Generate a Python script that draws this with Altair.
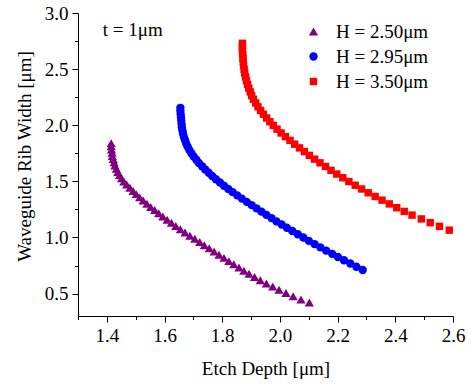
import altair as alt
import pandas as pd

series_labels = ["H = 2.50μm", "H = 2.95μm", "H = 3.50μm"]
series_colors = ["#800080", "#0000ff", "#ff0000"]
series_shapes = ["triangle-up", "circle", "square"]

# H = 2.50 um (purple triangles)
w_250 = [1.840, 1.812, 1.783, 1.755, 1.726, 1.698, 1.670, 1.641, 1.613, 1.584,
         1.556, 1.528, 1.499, 1.471, 1.442, 1.414, 1.386, 1.357, 1.329, 1.300,
         1.272, 1.244, 1.215, 1.187, 1.158, 1.130, 1.102, 1.073, 1.045, 1.016,
         0.988, 0.960, 0.931, 0.903, 0.874, 0.846, 0.818, 0.789, 0.761, 0.732,
         0.704, 0.676, 0.647, 0.619, 0.590, 0.562, 0.534, 0.505, 0.477, 0.448, 0.420]
d_250 = [1.415, 1.415, 1.416, 1.418, 1.419, 1.422, 1.425, 1.428, 1.433, 1.438,
         1.444, 1.451, 1.459, 1.469, 1.480, 1.491, 1.502, 1.514, 1.526, 1.539,
         1.552, 1.566, 1.580, 1.594, 1.609, 1.624, 1.639, 1.655, 1.671, 1.688,
         1.705, 1.722, 1.738, 1.755, 1.772, 1.789, 1.806, 1.823, 1.840, 1.858,
         1.875, 1.893, 1.912, 1.932, 1.953, 1.975, 1.997, 2.021, 2.046, 2.073, 2.102]

# H = 2.95 um (blue circles)
w_295 = [2.155, 2.126, 2.097, 2.068, 2.039, 2.010, 1.982, 1.953, 1.924, 1.895,
         1.866, 1.837, 1.808, 1.779, 1.750, 1.721, 1.693, 1.664, 1.635, 1.606,
         1.577, 1.548, 1.519, 1.490, 1.461, 1.432, 1.404, 1.375, 1.346, 1.317,
         1.288, 1.259, 1.230, 1.201, 1.172, 1.143, 1.115, 1.086, 1.057, 1.028,
         0.999, 0.970, 0.941, 0.912, 0.883, 0.854, 0.826, 0.797, 0.768, 0.739, 0.710]
d_295 = [1.655, 1.655, 1.656, 1.657, 1.658, 1.659, 1.660, 1.662, 1.664, 1.667,
         1.671, 1.675, 1.680, 1.686, 1.693, 1.701, 1.710, 1.719, 1.730, 1.741,
         1.753, 1.765, 1.778, 1.792, 1.806, 1.821, 1.836, 1.852, 1.868, 1.885,
         1.902, 1.919, 1.936, 1.953, 1.971, 1.988, 2.006, 2.024, 2.043, 2.062,
         2.081, 2.100, 2.120, 2.140, 2.160, 2.181, 2.201, 2.222, 2.244, 2.265, 2.287]

# H = 3.50 um (red squares)
w_350 = [2.730, 2.697, 2.663, 2.630, 2.597, 2.564, 2.530, 2.497, 2.464, 2.430,
         2.397, 2.364, 2.331, 2.297, 2.264, 2.231, 2.198, 2.164, 2.131, 2.098,
         2.064, 2.031, 1.998, 1.965, 1.931, 1.898, 1.865, 1.831, 1.798, 1.765,
         1.731, 1.698, 1.665, 1.632, 1.598, 1.565, 1.532, 1.498, 1.465, 1.432,
         1.398, 1.365, 1.332, 1.299, 1.265, 1.232, 1.199, 1.165, 1.132, 1.099, 1.065]
d_350 = [1.870, 1.870, 1.870, 1.871, 1.872, 1.873, 1.874, 1.876, 1.878, 1.881,
         1.884, 1.888, 1.892, 1.897, 1.902, 1.908, 1.916, 1.924, 1.933, 1.943,
         1.954, 1.965, 1.977, 1.990, 2.004, 2.019, 2.035, 2.051, 2.068, 2.085,
         2.102, 2.120, 2.139, 2.158, 2.177, 2.197, 2.218, 2.239, 2.261, 2.283,
         2.306, 2.330, 2.354, 2.379, 2.405, 2.431, 2.458, 2.490, 2.521, 2.553, 2.587]

x_major = [1.4, 1.6, 1.8, 2.0, 2.2, 2.4, 2.6]
x_minor = [1.3, 1.5, 1.7, 1.9, 2.1, 2.3, 2.5]
y_major = [0.5, 1.0, 1.5, 2.0, 2.5, 3.0]
y_minor = [0.75, 1.25, 1.75, 2.25, 2.75]
annotation = ["t = 1μm"]

rows = []
for lab, ds, ws in zip(series_labels, [d_250, d_295, d_350], [w_250, w_295, w_350]):
    for d, w in zip(ds, ws):
        rows.append({"series": lab, "depth": d, "width": w})
df = pd.DataFrame(rows)

FONT = "Liberation Serif"
x_scale = alt.Scale(domain=[1.3, 2.6], nice=False, zero=False)
y_scale = alt.Scale(domain=[0.3, 3.0], nice=False, zero=False)

x_axis = alt.Axis(
    orient="bottom", values=x_major, format=".1f", tickSize=6,
    labelFont=FONT, labelFontSize=19, labelColor="black", labelPadding=4,
    labelOverlap=False, labelFlush=False,
    title="Etch Depth [μm]", titleFont=FONT, titleFontSize=19, titleFontWeight="normal",
    titleColor="black", titlePadding=14,
    domainColor="black", tickColor="black", grid=False,
)
y_axis = alt.Axis(
    orient="left", values=y_major, format=".1f", tickSize=6,
    labelFont=FONT, labelFontSize=19, labelColor="black", labelPadding=4,
    labelOverlap=False, labelFlush=False,
    title="Waveguide Rib Width [μm]", titleFont=FONT, titleFontSize=19, titleFontWeight="normal",
    titleColor="black", titlePadding=10, titleY=143,
    domainColor="black", tickColor="black", grid=False,
)
x_minor_axis = alt.Axis(orient="bottom", values=x_minor, tickSize=3.5, labels=False,
                        domain=False, title="", tickColor="black", grid=False)
y_minor_axis = alt.Axis(orient="left", values=y_minor, tickSize=3.5, labels=False,
                        domain=False, title="", tickColor="black", grid=False)

points = alt.Chart(df).mark_point(filled=True, opacity=1, strokeWidth=0).encode(
    x=alt.X("depth:Q", scale=x_scale, axis=x_axis),
    y=alt.Y("width:Q", scale=y_scale, axis=y_axis),
    color=alt.Color("series:N", scale=alt.Scale(domain=series_labels, range=series_colors),
                    legend=alt.Legend(title=None, orient="none", legendX=226, legendY=9,
                                      labelFont=FONT, labelFontSize=19, labelColor="black",
                                      labelOffset=13, rowPadding=5, padding=0)),
    shape=alt.Shape("series:N", scale=alt.Scale(domain=series_labels, range=series_shapes)),
    size=alt.Size("series:N", scale=alt.Scale(domain=series_labels, range=[85, 55, 45])),
)

minor = alt.Chart(df).mark_point(opacity=0).encode(
    x=alt.X("depth:Q", scale=x_scale, axis=x_minor_axis),
    y=alt.Y("width:Q", scale=y_scale, axis=y_minor_axis),
)

text = alt.Chart(pd.DataFrame({"label": annotation})).mark_text(
    align="left", baseline="alphabetic", font=FONT, fontSize=19, color="black"
).encode(
    x=alt.XDatum(1.386, scale=x_scale, axis=None),
    y=alt.YDatum(2.797, scale=y_scale, axis=None),
    text="label:N",
)

chart = alt.layer(minor, points, text).resolve_axis(x="independent", y="independent").properties(
    width=375, height=303,
    autosize=alt.AutoSizeParams(type="none"),
    padding={"left": 78, "top": 13, "right": 18, "bottom": 68},
    background="white",
).configure_view(stroke=None)

chart.save("out.html", embed_options={"renderer": "svg", "actions": False})
